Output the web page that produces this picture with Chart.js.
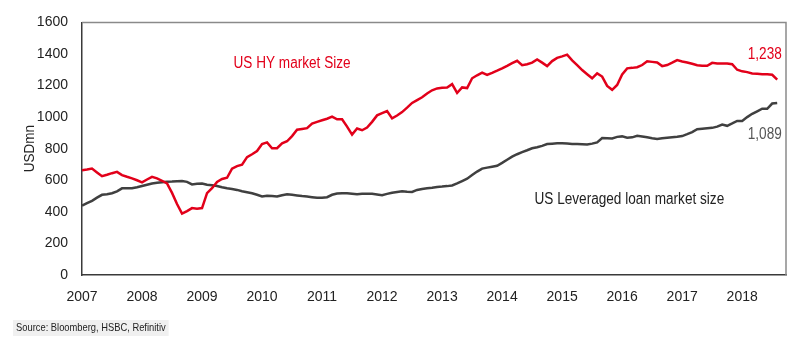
<!DOCTYPE html>
<html>
<head>
<meta charset="utf-8">
<script src="https://cdn.jsdelivr.net/npm/chart.js@4.4.1/dist/chart.umd.min.js"></script>
<style>
  html, body { margin: 0; padding: 0; background: #ffffff; }
  #wrap { position: relative; width: 801px; height: 344px; }
</style>
</head>
<body>
<div id="wrap"><canvas id="c" width="801" height="344"></canvas></div>
<script>
// ---- Data (monthly, Jan 2007 .. Aug 2018), USD bn ----
const startYear = 2007;
const yearTicks = [2007, 2008, 2009, 2010, 2011, 2012, 2013, 2014, 2015, 2016, 2017, 2018];
const hySize = [
  // 2007
  664, 668, 674, 650, 626, 635, 645, 653, 633, 622, 612, 600,
  // 2008
  587, 605, 622, 612, 597, 580, 520, 450, 389, 405, 424, 420,
  // 2009
  424, 518, 550, 590, 608, 616, 674, 690, 699, 747, 765, 785,
  // 2010
  830, 840, 803, 803, 834, 847, 880, 920, 925, 930, 959, 970,
  // 2011
  980, 990, 1003, 986, 986, 940, 889, 928, 917, 934, 970, 1011,
  // 2012
  1025, 1038, 992, 1010, 1032, 1060, 1090, 1108, 1126, 1150, 1170, 1182,
  // 2013
  1186, 1188, 1209, 1153, 1188, 1184, 1246, 1265, 1282, 1267, 1280, 1294,
  // 2014
  1309, 1325, 1342, 1357, 1329, 1335, 1345, 1365, 1345, 1323, 1355, 1375,
  // 2015
  1385, 1396, 1360, 1330, 1298, 1272, 1246, 1277, 1257, 1198, 1173, 1204,
  // 2016
  1270, 1309, 1312, 1316, 1330, 1354, 1350, 1346, 1323, 1330, 1345, 1361,
  // 2017
  1352, 1346, 1338, 1329, 1326, 1325, 1344, 1340, 1340, 1340, 1335, 1300,
  // 2018
  1290, 1285, 1277, 1274, 1271, 1271, 1268, 1238
];
const loanSize = [
  // 2007
  439, 455, 470, 490, 508, 512, 518, 530, 549, 549, 549, 556,
  // 2008
  564, 572, 580, 585, 588, 591, 592, 594, 595, 590, 574, 578,
  // 2009
  580, 572, 568, 564, 556, 549, 545, 539, 530, 524, 518, 508,
  // 2010
  497, 502, 500, 497, 505, 512, 508, 504, 500, 497, 493, 489,
  // 2011
  490, 493, 508, 516, 518, 518, 515, 512, 514, 514, 514, 510,
  // 2012
  506, 514, 521, 526, 531, 528, 526, 539, 545, 549, 553, 558,
  // 2013
  560, 563, 567, 580, 595, 610, 633, 655, 674, 680, 686, 692,
  // 2014
  710, 730, 750, 765, 778, 790, 803, 809, 818, 830, 832, 834,
  // 2015
  834, 833, 830, 829, 828, 826, 832, 840, 867, 866, 865, 875,
  // 2016
  878, 870, 872, 882, 877, 872, 866, 861, 866, 870, 873, 876,
  // 2017
  880, 892, 905, 923, 926, 929, 932, 940, 953, 945, 960, 976,
  // 2018
  976, 1000, 1021, 1037, 1053, 1053, 1086, 1089
];
const seriesNames = ['US HY market Size', 'US Leveraged loan market size'];
const endLabels = ['1,238', '1,089'];
const yTitle = 'USDmn';
const sourceText = 'Source: Bloomberg, HSBC, Refinitiv';

const RED = '#e2001a';
const DARK = '#404040';
const FONT = "'Liberation Sans', Arial, sans-serif";
const NARROW = 0.85;

const toPoints = arr => arr.map((v, i) => ({ x: startYear + i / 12, y: v }));

function narrowText(ctx, text, px, py, align, sx) {
  ctx.save();
  ctx.translate(px, py);
  ctx.scale(sx, 1);
  ctx.textAlign = align;
  ctx.fillText(text, 0, 0);
  ctx.restore();
}

const annotations = {
  id: 'annotations',
  beforeDatasetsDraw(chart) {
    const { ctx, chartArea: a } = chart;
    ctx.save();
    ctx.strokeStyle = '#8a8a8a';
    ctx.lineWidth = 1.5;
    ctx.beginPath();
    ctx.moveTo(a.left, a.top);
    ctx.lineTo(a.right, a.top);
    ctx.lineTo(a.right, a.bottom);
    ctx.stroke();
    ctx.restore();
  },
  afterDraw(chart) {
    const { ctx, scales: { x, y } } = chart;
    ctx.save();
    ctx.textBaseline = 'middle';
    ctx.font = "16px " + FONT;
    ctx.fillStyle = RED;
    narrowText(ctx, seriesNames[0], x.getPixelForValue(2010.5), y.getPixelForValue(1340), 'center', NARROW);
    ctx.fillStyle = '#222222';
    narrowText(ctx, seriesNames[1], x.getPixelForValue(2016.12), y.getPixelForValue(479), 'center', NARROW);
    ctx.fillStyle = RED;
    narrowText(ctx, endLabels[0], x.getPixelForValue(2018.66), y.getPixelForValue(1396), 'right', NARROW);
    ctx.fillStyle = '#555555';
    narrowText(ctx, endLabels[1], x.getPixelForValue(2018.66), y.getPixelForValue(890), 'right', NARROW);
    // y title
    ctx.save();
    ctx.translate(30, (chart.chartArea.top + chart.chartArea.bottom) / 2);
    ctx.rotate(-Math.PI / 2);
    ctx.fillStyle = '#222222';
    ctx.font = "15px " + FONT;
    narrowText(ctx, yTitle, 0, 0, 'center', 0.9);
    ctx.restore();
    // source
    ctx.font = "11px " + FONT;
    const w = ctx.measureText(sourceText).width * NARROW;
    ctx.fillStyle = '#f0f0f0';
    ctx.fillRect(13, 320, w + 6, 16);
    ctx.fillStyle = '#222222';
    narrowText(ctx, sourceText, 16, 328, 'left', NARROW);
    ctx.restore();
  }
};

new Chart(document.getElementById('c'), {
  type: 'line',
  data: {
    datasets: [
      { label: seriesNames[0], data: toPoints(hySize), borderColor: RED, borderWidth: 2.5, pointRadius: 0, tension: 0, fill: false },
      { label: seriesNames[1], data: toPoints(loanSize), borderColor: DARK, borderWidth: 2.5, pointRadius: 0, tension: 0, fill: false }
    ]
  },
  options: {
    responsive: false,
    animation: false,
    layout: { padding: { left: 0, right: 15, top: 18, bottom: 0 } },
    plugins: { legend: { display: false }, tooltip: { enabled: false } },
    scales: {
      x: {
        type: 'linear',
        min: 2007,
        max: 2018.73,
        afterBuildTicks(scale) { scale.ticks = yearTicks.map(v => ({ value: v })); },
        afterFit(scale) { scale.height = 69; },
        grid: { display: false, drawTicks: false },
        border: { display: true, color: '#3a3a3a', width: 1.5 },
        ticks: { color: '#222222', font: { family: FONT, size: 14 }, padding: 14, maxRotation: 0, autoSkip: false, callback: v => String(v) }
      },
      y: {
        min: 0,
        max: 1600,
        afterFit(scale) { scale.width = 82; },
        grid: { display: false, drawTicks: false },
        border: { display: true, color: '#3a3a3a', width: 1.5 },
        ticks: { stepSize: 200, color: '#222222', font: { family: FONT, size: 14 }, padding: 14, callback: v => String(v) }
      }
    }
  },
  plugins: [annotations]
});
</script>
</body>
</html>
